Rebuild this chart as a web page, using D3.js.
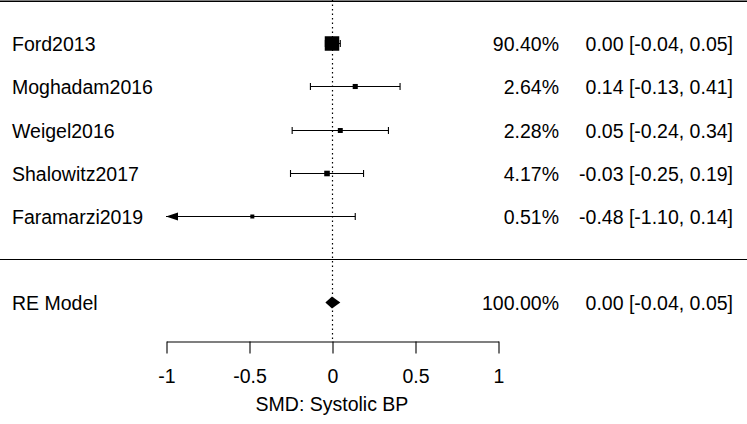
<!DOCTYPE html>
<html><head><meta charset="utf-8">
<script src="https://cdn.jsdelivr.net/npm/d3@7"></script>
<style>
html,body{margin:0;padding:0;background:#fff;}
svg{display:block;}
text{font-family:"Liberation Sans",Arial,sans-serif;font-size:19.5px;fill:#000;}
</style></head>
<body>
<svg id="chart" width="747" height="424"></svg>
<script>
const studies = ["Ford2013","Moghadam2016","Weigel2016","Shalowitz2017","Faramarzi2019"];
const estimates = [0.00, 0.14, 0.05, -0.03, -0.48];
const lowers = [-0.04, -0.13, -0.24, -0.25, -1.10];
const uppers = [0.05, 0.41, 0.34, 0.19, 0.14];
const weights = [90.40, 2.64, 2.28, 4.17, 0.51];
const summaryLabel = "RE Model";
const summaryEst = 0.00, summaryLower = -0.04, summaryUpper = 0.05, summaryWeight = 100.00;
const xTicks = [-1, -0.5, 0, 0.5, 1];
const xTitle = "SMD: Systolic BP";

const W = 747, H = 424;
const svg = d3.select("#chart");
const x = d3.scaleLinear().domain([-1, 1]).range([166, 498]);
// row positions: studies k..1, separator 0, summary -1
const y = d3.scaleLinear().domain([1, 0]).range([216, 259.25]);
const k = studies.length;
const rows = studies.map((s, i) => k - i);
const axisY = 341;
const xmin = x.domain()[0], xmax = x.domain()[1];

const fmt = v => v.toFixed(2);
const fmtCI = (e, l, u) => `${fmt(e)} [${fmt(l)}, ${fmt(u)}]`;

// top and separator lines
svg.append("line").attr("x1", 0).attr("x2", W).attr("y1", y(k + 1) + 1.5).attr("y2", y(k + 1) + 1.5)
  .attr("stroke", "#000").attr("stroke-width", 1.5);
svg.append("line").attr("x1", 0).attr("x2", W).attr("y1", Math.round(y(0)) + 0.5).attr("y2", Math.round(y(0)) + 0.5)
  .attr("stroke", "#000").attr("stroke-width", 1);

// reference dotted line
svg.append("line").attr("x1", Math.round(x(0)) + 0.5).attr("x2", Math.round(x(0)) + 0.5)
  .attr("y1", 0).attr("y2", axisY)
  .attr("stroke", "#000").attr("stroke-width", 1.2).attr("stroke-dasharray", "1.5,3");

// size scale for boxes
const sizeScale = d3.scaleLinear()
  .domain(d3.extent(weights.map(Math.sqrt)))
  .range([4, 14.5]);

const g = svg.append("g");
studies.forEach((s, i) => {
  const cy = Math.round(y(rows[i])) + 0.5;
  const lo = Math.max(lowers[i], xmin), hi = Math.min(uppers[i], xmax);
  g.append("line").attr("x1", x(lo)).attr("x2", x(hi)).attr("y1", cy).attr("y2", cy)
    .attr("stroke", "#000").attr("stroke-width", 1.1);
  if (lowers[i] < xmin) {
    const tip = x(xmin);
    g.append("path").attr("d", `M${tip},${cy}L${tip + 12},${cy - 4}L${tip + 12},${cy + 4}Z`).attr("fill", "#000");
  } else {
    g.append("line").attr("x1", x(lo)).attr("x2", x(lo)).attr("y1", cy - 3.5).attr("y2", cy + 3.5)
      .attr("stroke", "#000").attr("stroke-width", 1.1);
  }
  if (uppers[i] > xmax) {
    const tip = x(xmax);
    g.append("path").attr("d", `M${tip},${cy}L${tip - 12},${cy - 4}L${tip - 12},${cy + 4}Z`).attr("fill", "#000");
  } else {
    g.append("line").attr("x1", x(hi)).attr("x2", x(hi)).attr("y1", cy - 3.5).attr("y2", cy + 3.5)
      .attr("stroke", "#000").attr("stroke-width", 1.1);
  }
  const sz = sizeScale(Math.sqrt(weights[i]));
  g.append("rect").attr("x", x(estimates[i]) - sz / 2).attr("y", cy - sz / 2)
    .attr("width", sz).attr("height", sz).attr("fill", "#000");

  g.append("text").attr("x", 12).attr("y", cy).attr("dy", "0.36em").text(s);
  g.append("text").attr("x", 559).attr("y", cy).attr("dy", "0.36em").attr("text-anchor", "end")
    .text(fmt(weights[i]) + "%");
  g.append("text").attr("x", 733).attr("y", cy).attr("dy", "0.36em").attr("text-anchor", "end")
    .text(fmtCI(estimates[i], lowers[i], uppers[i]));
});

// summary
const sy = y(-1);
svg.append("path")
  .attr("d", `M${x(summaryLower)},${sy}L${x(summaryEst)},${sy - 6}L${x(summaryUpper)},${sy}L${x(summaryEst)},${sy + 6}Z`)
  .attr("fill", "#000");
svg.append("text").attr("x", 12).attr("y", sy).attr("dy", "0.36em").text(summaryLabel);
svg.append("text").attr("x", 559).attr("y", sy).attr("dy", "0.36em").attr("text-anchor", "end")
  .text(fmt(summaryWeight) + "%");
svg.append("text").attr("x", 733).attr("y", sy).attr("dy", "0.36em").attr("text-anchor", "end")
  .text(fmtCI(summaryEst, summaryLower, summaryUpper));

// axis
const axis = d3.axisBottom(x).tickValues(xTicks).tickSize(12).tickSizeOuter(0).tickPadding(16)
  .tickFormat(d => String(d));
const ax = svg.append("g").attr("transform", `translate(0.5,${axisY + 0.5})`).call(axis);
ax.selectAll("path,line").attr("stroke", "#000").attr("stroke-width", 1.1);
ax.selectAll("text").attr("font-size", null).attr("font-family", null).attr("fill", "#000");

svg.append("text").attr("x", x(0)).attr("y", 404).attr("dy", "0.36em").attr("text-anchor", "middle").text(xTitle);
</script>
</body></html>
